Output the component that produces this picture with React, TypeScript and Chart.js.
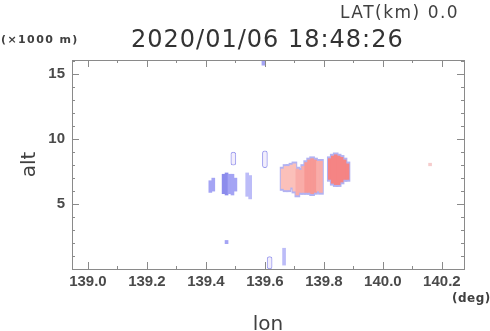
import React, { useEffect, useRef } from "react";
import { Chart, registerables } from "chart.js";
Chart.register(...registerables);

// ---- data ----
const lonTicks = [139.0, 139.2, 139.4, 139.6, 139.8, 140.0, 140.2];
const altTicks = [5, 10, 15];
const lonMin = 138.946;
const lonMax = 140.275;
const altMin = 0;
const altMax = 16.1;

// echo columns: longitude, base altitude, top altitude (x1000 m), intensity level
const echoLon = [
  139.415, 139.425,
  139.46, 139.47, 139.48, 139.49, 139.5,
  139.54, 139.55,
  139.47, 139.665, 139.595,
  139.66, 139.67, 139.68, 139.69, 139.7, 139.71, 139.72, 139.73, 139.74, 139.75, 139.76, 139.77, 139.78, 139.79,
  139.82, 139.83, 139.84, 139.85, 139.86, 139.87, 139.88,
  140.16,
];
const echoBase = [
  5.9, 6.0,
  5.8, 5.7, 5.8, 5.7, 6.0,
  5.6, 5.4,
  1.95, 0.3, 15.7,
  6.2, 6.1, 6.1, 6.3, 6.0, 5.7, 5.9, 5.9, 5.9, 5.9, 5.8, 5.9, 6.0, 5.9,
  6.9, 6.6, 6.5, 6.5, 6.7, 6.9, 6.9,
  7.95,
];
const echoTop = [
  6.8, 7.0,
  7.3, 7.4, 7.3, 7.3, 7.0,
  7.4, 7.2,
  2.2, 1.6, 16.1,
  7.7, 7.9, 7.9, 8.0, 8.1, 7.7, 7.6, 7.9, 8.2, 8.4, 8.5, 8.4, 8.3, 8.3,
  8.5, 8.7, 8.8, 8.7, 8.6, 8.4, 8.1,
  8.15,
];
const echoLevel = [
  2, 2,
  3, 3, 2, 2, 2,
  1, 1,
  2, 1, 2,
  4, 4, 4, 4, 4, 5, 5, 5, 6, 6, 6, 6, 5, 5,
  7, 7, 7, 7, 7, 7, 7,
  8,
];

// hollow contours
const ringLon = [139.493, 139.6, 139.616];
const ringBase = [8.0, 7.8, 0.0];
const ringTop = [9.0, 9.1, 0.95];

const titleText = "2020/01/06 18:48:26";
const latText = "LAT(km) 0.0";
const altUnit = "(×1000 m)";
const lonUnit = "(deg)";
const lonTitle = "lon";
const altTitle = "alt";

// ---- styles ----
const palette: Record<number, string> = {
  1: "#bcbcf8",
  2: "#a4a4f4",
  3: "#8c8cec",
  4: "#fbc0ba",
  5: "#f9aca8",
  6: "#f79894",
  7: "#f58484",
  8: "#f6cccc",
};
const fringeColor = "#b2b2f2";
const frameColor = "#8a8a8a";
const textColor = "#404040";

const decorPlugin = {
  id: "decor",
  afterDatasetsDraw(chart: any) {
    const { ctx, chartArea } = chart;
    const { left, right, top, bottom } = chartArea;
    const xs = chart.scales.x;
    const ys = chart.scales.y;
    ctx.save();
    ctx.strokeStyle = frameColor;
    ctx.lineWidth = 1;
    ctx.beginPath();
    for (let k = Math.ceil(lonMin * 10 - 1e-9); k <= Math.floor(lonMax * 10 + 1e-9); k++) {
      const px = Math.round(xs.getPixelForValue(k / 10)) + 0.5;
      const len = k % 2 === 0 ? 7 : 3;
      ctx.moveTo(px, bottom);
      ctx.lineTo(px, bottom - len);
      ctx.moveTo(px, top);
      ctx.lineTo(px, top + len);
    }
    for (let k = Math.ceil(altMin); k <= Math.floor(altMax); k++) {
      if (k === 0) continue;
      const py = Math.round(ys.getPixelForValue(k)) + 0.5;
      const len = k % 5 === 0 ? 7 : 3;
      ctx.moveTo(left, py);
      ctx.lineTo(left + len, py);
      ctx.moveTo(right, py);
      ctx.lineTo(right - len, py);
    }
    ctx.stroke();
    ctx.strokeRect(Math.round(left) + 0.5, Math.round(top) + 0.5, Math.round(right - left), Math.round(bottom - top));
    ctx.restore();
  },
  afterDraw(chart: any) {
    const { ctx, chartArea } = chart;
    const cx = (chartArea.left + chartArea.right) / 2;
    const cy = (chartArea.top + chartArea.bottom) / 2;
    ctx.save();
    ctx.fillStyle = textColor;
    ctx.textBaseline = "alphabetic";
    ctx.textAlign = "left";
    (ctx as any).letterSpacing = "1.5px";
    ctx.font = "17px 'DejaVu Sans'";
    ctx.fillText(latText, 340, 18);
    (ctx as any).letterSpacing = "1px";
    ctx.fillStyle = "#333";
    ctx.font = "24px 'DejaVu Sans'";
    ctx.fillText(titleText, 131, 47);
    ctx.fillStyle = textColor;
    (ctx as any).letterSpacing = "1.4px";
    ctx.font = "bold 11px 'DejaVu Sans'";
    ctx.fillText(altUnit, 1, 43);
    (ctx as any).letterSpacing = "0.5px";
    ctx.font = "bold 12px 'DejaVu Sans'";
    ctx.fillText(lonUnit, 452, 302);
    (ctx as any).letterSpacing = "0px";
    ctx.font = "20px 'DejaVu Sans'";
    ctx.textAlign = "center";
    ctx.fillText(lonTitle, cx, 330);
    ctx.translate(35, cy);
    ctx.rotate(-Math.PI / 2);
    ctx.fillText(altTitle, 0, 0);
    ctx.restore();
  },
};

export default function App() {
  const ref = useRef<HTMLCanvasElement | null>(null);
  useEffect(() => {
    document.body.style.margin = "0";
    const canvas = ref.current!;
    const echo = echoLon.map((x, i) => ({ x, y: [echoBase[i], echoTop[i]] }));
    const echoColors = echoLevel.map((l) => palette[l]);
    const fringe = echoLon
      .map((x, i) => ({ x, y: [echoBase[i] - 0.15, echoTop[i] + 0.15], l: echoLevel[i] }))
      .filter((d) => d.l >= 4 && d.l <= 7)
      .map((d) => ({ x: d.x, y: d.y }));
    const rings = ringLon.map((x, i) => ({ x, y: [ringBase[i], ringTop[i]] }));
    const tickFont = { family: "'Liberation Sans', Arial, sans-serif", size: 15, weight: "bold" as const };
    const chart = new Chart(canvas, {
      type: "bar",
      data: {
        datasets: [
          {
            data: echo as any,
            backgroundColor: echoColors,
            borderWidth: 0,
            barThickness: 3,
            grouped: false,
          } as any,
          {
            data: rings as any,
            backgroundColor: "#f2eefc",
            borderColor: "#9c9cee",
            borderWidth: 1,
            borderSkipped: false,
            borderRadius: 3,
            barThickness: 5,
            grouped: false,
          } as any,
          {
            data: fringe as any,
            backgroundColor: fringeColor,
            borderWidth: 0,
            barThickness: 5,
            grouped: false,
          } as any,
        ],
      },
      options: {
        responsive: false,
        animation: false,
        devicePixelRatio: 1,
        layout: { padding: { top: 60, right: 26, left: 0, bottom: 0 } },
        plugins: { legend: { display: false }, tooltip: { enabled: false } },
        scales: {
          x: {
            type: "linear",
            min: lonMin,
            max: lonMax,
            offset: false,
            grid: { display: false, drawTicks: false },
            border: { display: false },
            afterBuildTicks: (s: any) => {
              s.ticks = lonTicks.map((v) => ({ value: v }));
            },
            afterFit: (s: any) => {
              s.height = 62;
            },
            ticks: {
              padding: 4,
              color: "#4a4a4a",
              font: tickFont,
              maxRotation: 0,
              autoSkip: false,
              callback: (v: any) => Number(v).toFixed(1),
            },
          },
          y: {
            type: "linear",
            min: altMin,
            max: altMax,
            grid: { display: false, drawTicks: false },
            border: { display: false },
            afterBuildTicks: (s: any) => {
              s.ticks = altTicks.map((v) => ({ value: v }));
            },
            afterFit: (s: any) => {
              s.width = 72;
            },
            ticks: {
              padding: 7,
              color: "#4a4a4a",
              font: tickFont,
              autoSkip: false,
              callback: (v: any) => String(v),
            },
          },
        },
      } as any,
      plugins: [decorPlugin],
    });
    return () => chart.destroy();
  }, []);
  return (
    <div style={{ width: 490, height: 331 }}>
      <canvas ref={ref} width={490} height={331} style={{ display: "block" }} />
    </div>
  );
}
